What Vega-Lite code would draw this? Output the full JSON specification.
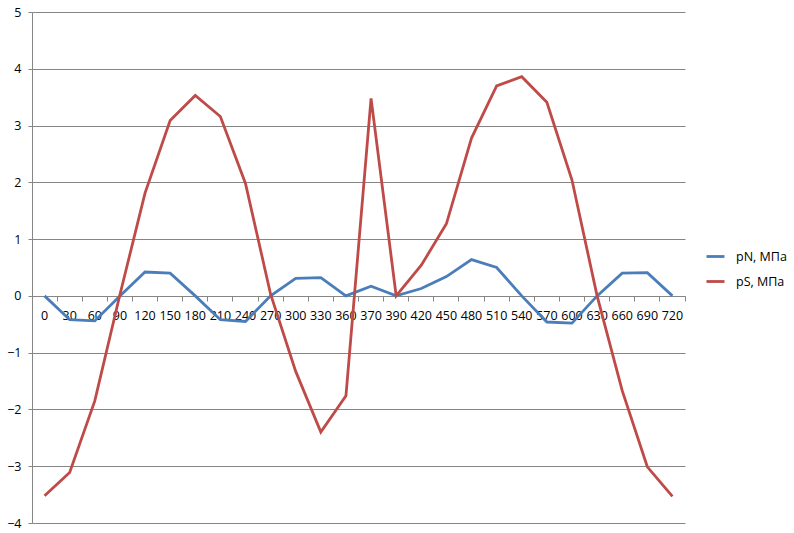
{
  "$schema": "https://vega.github.io/schema/vega-lite/v6.json",
  "width": 653,
  "height": 511,
  "autosize": "none",
  "padding": {"left": 32, "top": 12, "right": 109, "bottom": 10},
  "background": "white",
  "config": {"font": "Open Sans", "view": {"stroke": null}},
  "data": {
    "values": [
      {"angle": 0, "series": "pN, МПа", "value": 0},
      {"angle": 30, "series": "pN, МПа", "value": -0.42},
      {"angle": 60, "series": "pN, МПа", "value": -0.44},
      {"angle": 90, "series": "pN, МПа", "value": 0},
      {"angle": 120, "series": "pN, МПа", "value": 0.42},
      {"angle": 150, "series": "pN, МПа", "value": 0.4},
      {"angle": 180, "series": "pN, МПа", "value": 0},
      {"angle": 210, "series": "pN, МПа", "value": -0.42},
      {"angle": 240, "series": "pN, МПа", "value": -0.45},
      {"angle": 270, "series": "pN, МПа", "value": 0},
      {"angle": 300, "series": "pN, МПа", "value": 0.31},
      {"angle": 330, "series": "pN, МПа", "value": 0.32},
      {"angle": 360, "series": "pN, МПа", "value": 0},
      {"angle": 370, "series": "pN, МПа", "value": 0.17},
      {"angle": 390, "series": "pN, МПа", "value": 0},
      {"angle": 420, "series": "pN, МПа", "value": 0.13},
      {"angle": 450, "series": "pN, МПа", "value": 0.34},
      {"angle": 480, "series": "pN, МПа", "value": 0.64},
      {"angle": 510, "series": "pN, МПа", "value": 0.5},
      {"angle": 540, "series": "pN, МПа", "value": 0},
      {"angle": 570, "series": "pN, МПа", "value": -0.46},
      {"angle": 600, "series": "pN, МПа", "value": -0.48},
      {"angle": 630, "series": "pN, МПа", "value": 0},
      {"angle": 660, "series": "pN, МПа", "value": 0.4},
      {"angle": 690, "series": "pN, МПа", "value": 0.41},
      {"angle": 720, "series": "pN, МПа", "value": 0},
      {"angle": 0, "series": "pS, МПа", "value": -3.52},
      {"angle": 30, "series": "pS, МПа", "value": -3.11},
      {"angle": 60, "series": "pS, МПа", "value": -1.85},
      {"angle": 90, "series": "pS, МПа", "value": 0.02},
      {"angle": 120, "series": "pS, МПа", "value": 1.81},
      {"angle": 150, "series": "pS, МПа", "value": 3.09},
      {"angle": 180, "series": "pS, МПа", "value": 3.53},
      {"angle": 210, "series": "pS, МПа", "value": 3.16},
      {"angle": 240, "series": "pS, МПа", "value": 1.98},
      {"angle": 270, "series": "pS, МПа", "value": 0.03},
      {"angle": 300, "series": "pS, МПа", "value": -1.33},
      {"angle": 330, "series": "pS, МПа", "value": -2.4},
      {"angle": 360, "series": "pS, МПа", "value": -1.76},
      {"angle": 370, "series": "pS, МПа", "value": 3.48},
      {"angle": 390, "series": "pS, МПа", "value": 0},
      {"angle": 420, "series": "pS, МПа", "value": 0.54},
      {"angle": 450, "series": "pS, МПа", "value": 1.27},
      {"angle": 480, "series": "pS, МПа", "value": 2.78},
      {"angle": 510, "series": "pS, МПа", "value": 3.7},
      {"angle": 540, "series": "pS, МПа", "value": 3.86},
      {"angle": 570, "series": "pS, МПа", "value": 3.41},
      {"angle": 600, "series": "pS, МПа", "value": 2.04},
      {"angle": 630, "series": "pS, МПа", "value": 0.0},
      {"angle": 660, "series": "pS, МПа", "value": -1.67},
      {"angle": 690, "series": "pS, МПа", "value": -3.01},
      {"angle": 720, "series": "pS, МПа", "value": -3.53}
    ]
  },
  "layer": [
    {
      "mark": {"type": "line", "strokeWidth": 2.8},
      "encoding": {
        "x": {
          "field": "angle", "type": "ordinal", "bandPosition": 0.5,
          "scale": {"type": "band", "paddingInner": 0, "paddingOuter": 0},
          "axis": {
            "orient": "bottom", "offset": -227, "title": null, "labelAngle": 0,
            "ticks": false, "tickSize": 0, "domain": true, "domainColor": "#868686",
            "labelPadding": 13, "labelFontSize": 12.5, "labelColor": "#000000",
            "grid": false, "labelOverlap": false
          }
        },
        "y": {
          "field": "value", "type": "quantitative",
          "scale": {"domain": [-4, 5], "nice": false, "zero": false},
          "axis": {
            "title": null, "values": [-4, -3, -2, -1, 0, 1, 2, 3, 4, 5],
            "grid": true, "gridColor": "#868686", "domainColor": "#868686",
            "tickColor": "#868686", "tickSize": 4, "labelPadding": 7,
            "labelFontSize": 12.5, "labelColor": "#000000"
          }
        },
        "color": {
          "field": "series", "type": "nominal",
          "scale": {"domain": ["pN, МПа", "pS, МПа"], "range": ["#4A7EBB", "#BE4B48"]},
          "legend": {
            "title": null, "orient": "none", "legendX": 673, "legendY": 234,
            "symbolType": "stroke", "symbolSize": 324, "symbolStrokeWidth": 2.8,
            "rowPadding": 8, "labelOffset": 10, "labelFontSize": 12.5, "labelColor": "#000000"
          }
        }
      }
    },
    {
      "mark": {"type": "point", "opacity": 0},
      "encoding": {
        "x": {
          "field": "angle", "type": "ordinal", "bandPosition": 0.5,
          "scale": {"type": "band", "paddingInner": 0, "paddingOuter": 0},
          "axis": {
            "orient": "bottom", "offset": -227, "title": null, "labels": false,
            "ticks": true, "tickSize": 5, "tickColor": "#868686", "bandPosition": 1,
            "domain": false, "grid": false
          }
        }
      }
    }
  ],
  "resolve": {"axis": {"x": "independent"}}
}
